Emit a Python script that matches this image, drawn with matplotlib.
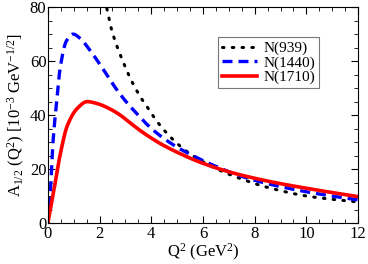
import numpy as np
import matplotlib.pyplot as plt
from matplotlib.ticker import MultipleLocator

plt.rcParams['font.family'] = ['Liberation Serif', 'DejaVu Serif']
plt.rcParams['mathtext.fontset'] = 'custom'
plt.rcParams['mathtext.rm'] = 'Liberation Serif'
plt.rcParams['mathtext.it'] = 'Liberation Serif'

# N(939) - dotted
q_939 = [2.0, 2.27, 2.47, 2.9, 3.3, 3.63, 3.88, 4.1, 4.4, 4.7, 5.0, 5.35, 5.7,
         6.5, 7.25, 8.47, 10.15, 12.0]
a_939 = [92, 80, 71.5, 60, 51.5, 46, 42.5, 39.3, 35.5, 32.3, 29.5, 26.7, 24.4,
         20.2, 17.2, 13.3, 9.8, 7.8]

# N(1440) - dashed
q_1440 = [0.0, 0.1, 0.2, 0.34, 0.47, 0.72, 0.98, 1.24, 1.63, 2.0, 2.66, 2.98,
          3.3, 4.07, 4.85, 5.5, 6.5, 7.5, 8.5, 10.0, 11.0, 12.0]
a_1440 = [0, 12, 30, 45, 57, 67.5, 70, 68.5, 64, 59, 49.5, 45.5,
          42, 34.5, 29, 25.5, 21, 17.3, 14.6, 11.6, 10, 8.6]

# N(1710) - solid
q_1710 = [0.0, 0.23, 0.49, 0.75, 1.14, 1.52, 1.9, 2.4, 2.8, 3.2, 3.57, 4.0,
          4.34, 5.1, 5.9, 7.0, 8.0, 9.0, 10.0, 11.0, 12.0]
a_1710 = [0, 12, 26, 36, 42.5, 45, 44.3, 42.3, 40, 37, 34.3, 31.5,
          29.5, 25.8, 22.5, 19, 16.6, 14.6, 12.9, 11.3, 9.8]


def smooth(q, a, n=400):
    # monotone piecewise cubic (PCHIP) through the read points
    q = np.asarray(q, float)
    a = np.asarray(a, float)
    qs = np.linspace(q[0], q[-1], n)
    h = np.diff(q)
    d = np.diff(a) / h
    m = np.zeros_like(a)
    m[0], m[-1] = d[0], d[-1]
    for i in range(1, len(a) - 1):
        if d[i - 1] * d[i] <= 0:
            m[i] = 0
        else:
            w1 = 2 * h[i] + h[i - 1]
            w2 = h[i] + 2 * h[i - 1]
            m[i] = (w1 + w2) / (w1 / d[i - 1] + w2 / d[i])
    idx = np.clip(np.searchsorted(q, qs) - 1, 0, len(q) - 2)
    t = (qs - q[idx]) / h[idx]
    h00 = 2 * t**3 - 3 * t**2 + 1
    h10 = t**3 - 2 * t**2 + t
    h01 = -2 * t**3 + 3 * t**2
    h11 = t**3 - t**2
    ys = h00 * a[idx] + h10 * h[idx] * m[idx] + h01 * a[idx + 1] + h11 * h[idx] * m[idx + 1]
    return qs, ys


fig = plt.figure(figsize=(3.68, 2.64), dpi=100)
ax = fig.add_axes([0.130, 0.155, 0.843, 0.818])

x, y = smooth(q_939, a_939)
ax.plot(x, y, color='black', lw=2.2, ls=(0, (0.5, 2.7)), dash_capstyle='round',
        label='N(939)')
x, y = smooth(q_1440, a_1440)
ax.plot(x, y, color='#0000ff', lw=2.4, ls=(0, (3.0, 1.8)), label='N(1440)')
x, y = smooth(q_1710, a_1710)
ax.plot(x, y, color='#ff0000', lw=2.6, label='N(1710)')

ax.set_xlim(0, 12)
ax.set_ylim(0, 80)
ax.xaxis.set_major_locator(MultipleLocator(2))
ax.xaxis.set_minor_locator(MultipleLocator(0.5))
ax.yaxis.set_major_locator(MultipleLocator(20))
ax.yaxis.set_minor_locator(MultipleLocator(5))
ax.tick_params(which='both', direction='in', top=True, right=True, labelsize=12)
ax.tick_params(which='major', length=5)
ax.tick_params(which='minor', length=3)
ax.tick_params(axis='x', pad=2)
ax.tick_params(axis='y', pad=1)

ax.set_xlabel(r'Q$^2$ (GeV$^2$)', fontsize=12, labelpad=0)
ax.set_ylabel(r'A$_{1/2}$ (Q$^2$) [10$^{-3}$ GeV$^{-1/2}$]', fontsize=12, labelpad=2)

leg = ax.legend(loc='upper left', bbox_to_anchor=(0.55, 0.86), fontsize=11,
                frameon=True, fancybox=False, edgecolor='#555555',
                handlelength=2.3, handletextpad=0.4, borderpad=0.25,
                labelspacing=0.05, borderaxespad=0)
leg.get_frame().set_linewidth(0.8)

fig.savefig('out.png', dpi=100)
